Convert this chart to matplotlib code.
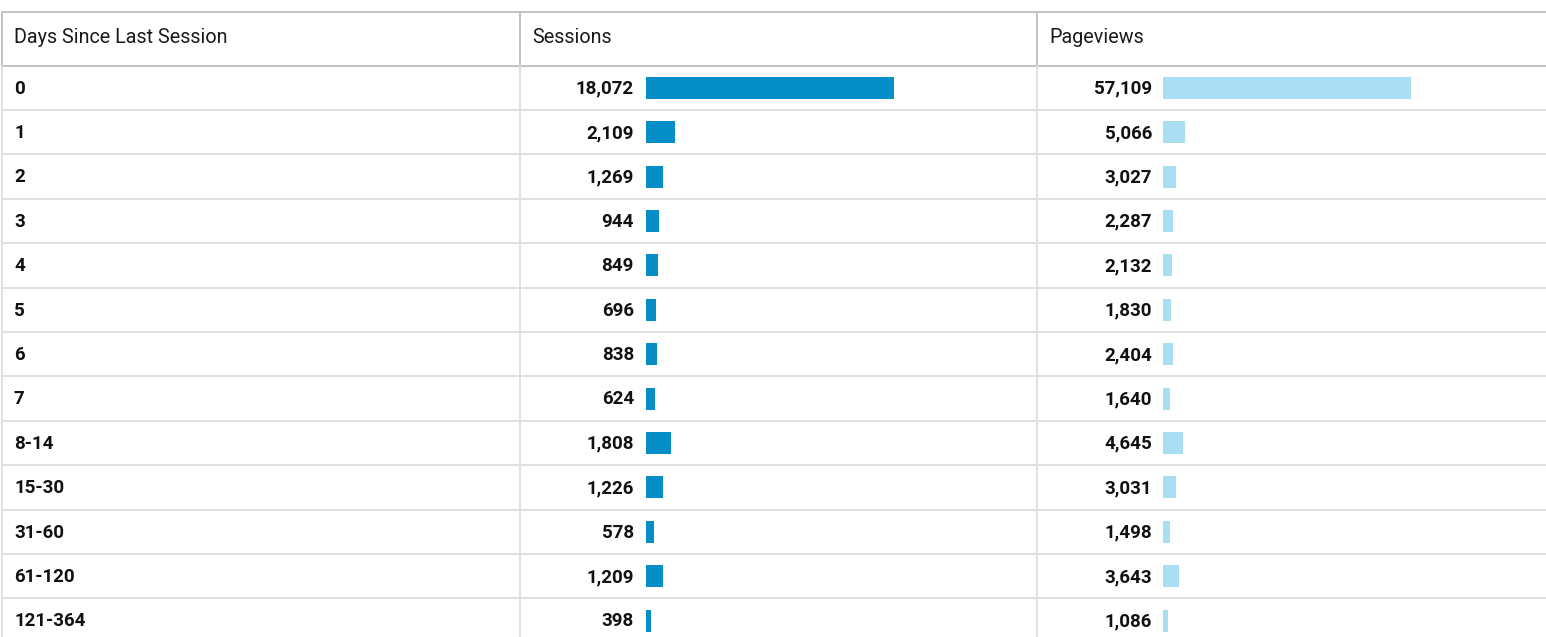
import matplotlib.pyplot as plt
from matplotlib.lines import Line2D

plt.rcParams['font.family'] = ['Roboto', 'DejaVu Sans']

days = ['0', '1', '2', '3', '4', '5', '6', '7', '8-14', '15-30', '31-60', '61-120', '121-364']
sessions = [18072, 2109, 1269, 944, 849, 696, 838, 624, 1808, 1226, 578, 1209, 398]
pageviews = [57109, 5066, 3027, 2287, 2132, 1830, 2404, 1640, 4645, 3031, 1498, 3643, 1086]
headers = ['Days Since Last Session', 'Sessions', 'Pageviews']

W, H = 1546, 637
top = 12
head_bot = 65.5
row_h = 44.4
col_x = [2, 520, 1037]

fig = plt.figure(figsize=(W / 100, H / 100), dpi=100)
ax = fig.add_axes([0, 0, 1, 1])
ax.set_xlim(0, W)
ax.set_ylim(H, 0)
ax.axis('off')

dark = '#bdbdbd'
light = '#dddddd'

# borders of the header
ax.add_line(Line2D([col_x[0], W], [top, top], color=dark, lw=1.3))
ax.add_line(Line2D([col_x[0], W], [head_bot, head_bot], color=dark, lw=1.3))
for x in col_x:
    ax.add_line(Line2D([x, x], [top, head_bot], color=dark, lw=1.3))
    ax.add_line(Line2D([x, x], [head_bot, H], color=light, lw=1.3))

# row separators
for i in range(1, len(days)):
    y = head_bot + i * row_h
    ax.add_line(Line2D([col_x[0], W], [y, y], color=light, lw=1.3))

fs = 13.5
# header text
for x, h in zip(col_x, headers):
    ax.text(x + 12, (top + head_bot) / 2 - 1, h, fontsize=14.2, color='#1a1a1a',
            ha='left', va='center')

# cell text
for i, d in enumerate(days):
    yc = head_bot + (i + 0.5) * row_h + 1
    ax.text(col_x[0] + 12, yc, d, fontsize=fs, fontweight='bold', color='#111111',
            ha='left', va='center')
    ax.text(634, yc, f'{sessions[i]:,}', fontsize=fs, fontweight='bold', color='#111111',
            ha='right', va='center')
    ax.text(1152, yc, f'{pageviews[i]:,}', fontsize=fs, fontweight='bold', color='#111111',
            ha='right', va='center')

# bar columns
n_vis = (H - head_bot) / row_h
body_h = (H - head_bot) / H
for left, vals, color in [(646, sessions, '#058dc7'), (1163, pageviews, '#aadff3')]:
    bx = fig.add_axes([left / W, 0, 248 / W, body_h])
    bx.barh([i + 0.5 for i in range(len(vals))], vals, height=22 / row_h,
            color=color, left=0)
    bx.set_xlim(0, max(vals))
    bx.set_ylim(n_vis, 0)
    bx.axis('off')

fig.savefig('out.png', dpi=100)
